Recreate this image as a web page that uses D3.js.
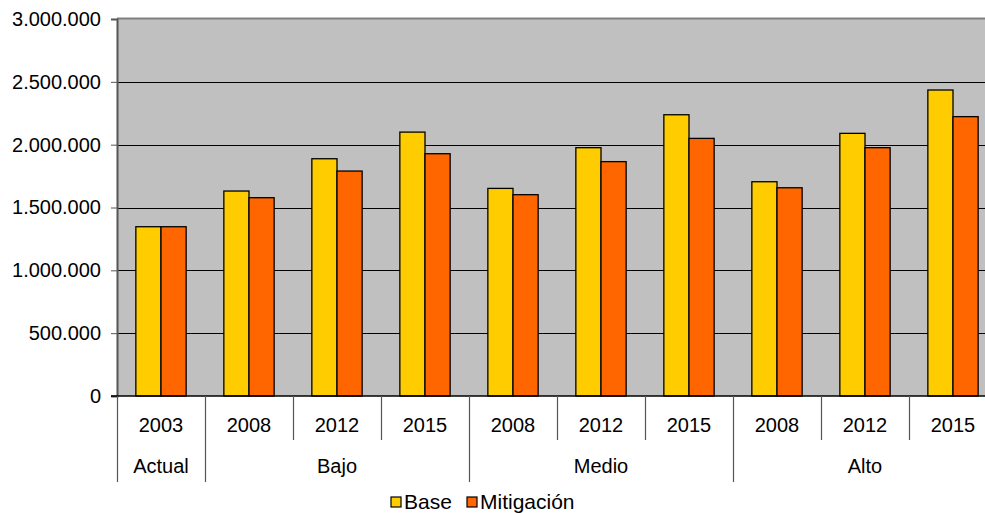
<!DOCTYPE html>
<html>
<head>
<meta charset="utf-8">
<script src="https://cdn.jsdelivr.net/npm/d3@7"></script>
<style>
  body { margin: 0; background: #fff; }
  svg { display: block; font-family: "Liberation Sans", Arial, sans-serif; }
</style>
</head>
<body>
<div id="chart"></div>
<script>
// data
var years = ["2003", "2008", "2012", "2015", "2008", "2012", "2015", "2008", "2012", "2015"];
var scenarios = ["Actual", "Bajo", "Medio", "Alto"];
var scenarioSpan = [1, 3, 3, 3];
var seriesNames = ["Base", "Mitigación"];
var base = [1347000, 1631000, 1888000, 2100000, 1652000, 1976000, 2238000, 1705000, 2090000, 2435000];
var mitigacion = [1347000, 1578000, 1790000, 1928000, 1602000, 1865000, 2050000, 1657000, 1976000, 2223000];
var yTicks = [0, 500000, 1000000, 1500000, 2000000, 2500000, 3000000];
var colors = ["#FFCC00", "#FF6600"];

var width = 985, height = 513;
var margin = { top: 19, right: -12, bottom: 117, left: 117 };
var plotW = width - margin.left - margin.right,
    plotH = height - margin.top - margin.bottom;
var fs = 20;

var svg = d3.select('#chart').append('svg')
  .attr('width', width)
  .attr('height', height);

var idx = d3.range(years.length);

var x0 = d3.scaleBand()
  .domain(idx)
  .range([margin.left, margin.left + plotW])
  .paddingInner(0).paddingOuter(0);

var x1 = d3.scaleBand()
  .domain(seriesNames)
  .range([0, x0.bandwidth()])
  .paddingInner(0).paddingOuter(0.75);

var y = d3.scaleLinear()
  .domain([0, 3000000])
  .range([margin.top + plotH, margin.top]);

var locale = d3.formatLocale({ decimal: ",", thousands: ".", grouping: [3], currency: ["", ""] });
var fmt = locale.format(",.0f");

// plot background
svg.append('rect')
  .attr('x', margin.left).attr('y', margin.top)
  .attr('width', plotW).attr('height', plotH)
  .attr('fill', '#C0C0C0');

// gridlines
svg.append('g')
  .selectAll('line')
  .data(yTicks.filter(function(d){ return d > 0 && d < 3000000; }))
  .enter().append('line')
    .attr('x1', margin.left).attr('x2', margin.left + plotW)
    .attr('y1', function(d){ return Math.round(y(d)) + 0.5; })
    .attr('y2', function(d){ return Math.round(y(d)) + 0.5; })
    .attr('stroke', '#000').attr('stroke-width', 1);

// top border of plot
svg.append('line')
  .attr('x1', margin.left).attr('x2', margin.left + plotW)
  .attr('y1', margin.top - 0.5).attr('y2', margin.top - 0.5)
  .attr('stroke', '#808080').attr('stroke-width', 2);

// bars
var series = [base, mitigacion];
var groups = svg.append('g').selectAll('g')
  .data(idx)
  .enter().append('g')
    .attr('transform', function(i){ return 'translate(' + x0(i) + ',0)'; });

groups.selectAll('rect')
  .data(function(i){ return seriesNames.map(function(s, k){ return { s: s, v: series[k][i], k: k }; }); })
  .enter().append('rect')
    .attr('x', function(d){ return x1(d.s); })
    .attr('y', function(d){ return y(d.v); })
    .attr('width', x1.bandwidth())
    .attr('height', function(d){ return y(0) - y(d.v); })
    .attr('fill', function(d){ return colors[d.k]; })
    .attr('stroke', '#000')
    .attr('stroke-width', 1.3);

// y axis
var yAxis = d3.axisLeft(y)
  .tickValues(yTicks)
  .tickFormat(function(d){ return d === 0 ? "0" : fmt(d); })
  .tickSize(6)
  .tickPadding(10);

var yG = svg.append('g')
  .attr('transform', 'translate(' + margin.left + ',0)')
  .call(yAxis);
yG.select('.domain').attr('stroke', '#555').attr('stroke-width', 2);
yG.selectAll('.tick line').attr('stroke', '#555');
yG.selectAll('.tick text')
  .attr('font-size', fs)
  .attr('fill', '#000')
  .attr('font-family', '"Liberation Sans", Arial, sans-serif');

// x axis line
var y0 = y(0);
svg.append('line')
  .attr('x1', margin.left - 6).attr('x2', margin.left + plotW)
  .attr('y1', y0).attr('y2', y0)
  .attr('stroke', '#000').attr('stroke-width', 1.5);

// year labels
svg.append('g').selectAll('text')
  .data(idx)
  .enter().append('text')
    .attr('x', function(i){ return x0(i) + x0.bandwidth() / 2; })
    .attr('y', 431.5)
    .attr('text-anchor', 'middle')
    .attr('font-size', fs)
    .text(function(i){ return years[i]; });

// scenario boundaries
var bounds = [0];
scenarioSpan.forEach(function(n){ bounds.push(bounds[bounds.length - 1] + n); });

// inner year ticks (short)
svg.append('g').selectAll('line')
  .data(idx.filter(function(i){ return bounds.indexOf(i) < 0; }))
  .enter().append('line')
    .attr('x1', function(i){ return Math.round(x0(i)) + 0.5; })
    .attr('x2', function(i){ return Math.round(x0(i)) + 0.5; })
    .attr('y1', y0).attr('y2', y0 + 44)
    .attr('stroke', '#555').attr('stroke-width', 1.2);

// scenario ticks (long)
svg.append('g').selectAll('line')
  .data(bounds.filter(function(b){ return b < years.length; }))
  .enter().append('line')
    .attr('x1', function(i){ return Math.round(x0(i)) + 0.5; })
    .attr('x2', function(i){ return Math.round(x0(i)) + 0.5; })
    .attr('y1', y0).attr('y2', y0 + 86)
    .attr('stroke', '#555').attr('stroke-width', 1.2);

// scenario labels
svg.append('g').selectAll('text')
  .data(scenarios)
  .enter().append('text')
    .attr('x', function(s, k){
      return (x0(bounds[k]) + x0(bounds[k + 1] - 1) + x0.bandwidth()) / 2;
    })
    .attr('y', 472.5)
    .attr('text-anchor', 'middle')
    .attr('font-size', fs)
    .text(function(s){ return s; });

// legend
var legendX = [391, 467];
var legend = svg.append('g').selectAll('g')
  .data(seriesNames)
  .enter().append('g')
    .attr('transform', function(d, k){ return 'translate(' + legendX[k] + ',497)'; });
legend.append('rect')
  .attr('width', 10).attr('height', 10)
  .attr('fill', function(d, k){ return colors[k]; })
  .attr('stroke', '#000').attr('stroke-width', 1.2);
legend.append('text')
  .attr('x', 13).attr('y', 11.5)
  .attr('font-size', fs + 1)
  .text(function(d){ return d; });
</script>
</body>
</html>
